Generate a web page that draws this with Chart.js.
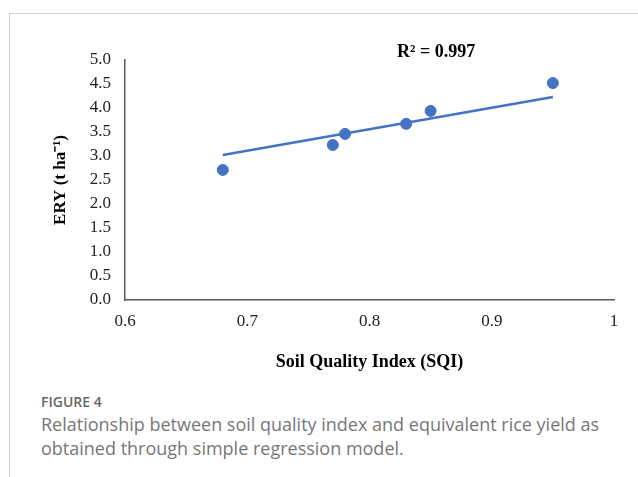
<!DOCTYPE html>
<html>
<head>
<meta charset="utf-8">
<script src="https://cdn.jsdelivr.net/npm/chart.js@4"></script>
<style>
  body { margin: 0; background: #fff; width: 638px; height: 477px; overflow: hidden; position: relative; }
  .frame { position: absolute; left: 9px; top: 13px; right: -2px; bottom: -2px; border-top: 1px solid #d0d0d0; border-left: 1px solid #d0d0d0; }
  #chartBox { position: absolute; left: 0; top: 0; width: 638px; height: 390px; }
  .caption { position: absolute; left: 41px; top: 392px; font-family: 'Open Sans', sans-serif; color: #6e6e6e; }
  .caption .label { font-size: 14px; font-weight: 600; color: #666; line-height: 20px; }
  .caption .text { font-size: 18px; line-height: 24px; color: #777; }
</style>
</head>
<body>
<div class="frame"></div>
<div id="chartBox"><canvas id="sqiChart"></canvas></div>
<div class="caption">
  <div class="label">FIGURE 4</div>
  <div class="text">Relationship between soil quality index and equivalent rice yield as<br>obtained through simple regression model.</div>
</div>
<script>
const sqi = [0.68, 0.77, 0.78, 0.83, 0.85, 0.95];
const ery = [2.71, 3.23, 3.46, 3.67, 3.94, 4.52];
const trendX = [0.68, 0.95];
const trendY = [3.02, 4.23];
const xTickLabels = ['0.6', '0.7', '0.8', '0.9', '1'];
const yTickLabels = ['0.0', '0.5', '1.0', '1.5', '2.0', '2.5', '3.0', '3.5', '4.0', '4.5', '5.0'];
const r2Text = 'R\u00b2 = 0.997';

const serif = "'Liberation Serif', 'Times New Roman', serif";
const blue = '#4472C4';
const axisColor = '#595959';

const r2Label = {
  id: 'r2Label',
  afterDatasetsDraw(chart) {
    const { ctx, scales } = chart;
    ctx.save();
    ctx.font = 'bold 18px ' + serif;
    ctx.fillStyle = '#000';
    ctx.textAlign = 'center';
    ctx.textBaseline = 'middle';
    ctx.fillText(r2Text, scales.x.getPixelForValue(0.8545), 52);
    ctx.restore();
  }
};

new Chart(document.getElementById('sqiChart'), {
  type: 'scatter',
  data: {
    datasets: [
      {
        data: sqi.map((x, i) => ({ x, y: ery[i] })),
        backgroundColor: blue,
        borderColor: blue,
        pointRadius: 5.5,
        pointHoverRadius: 5.5
      },
      {
        type: 'line',
        data: trendX.map((x, i) => ({ x, y: trendY[i] })),
        borderColor: blue,
        borderWidth: 2.5,
        pointRadius: 0,
        fill: false
      }
    ]
  },
  plugins: [r2Label],
  options: {
    responsive: true,
    maintainAspectRatio: false,
    animation: false,
    layout: { padding: { top: 60, right: 24, left: 0, bottom: 0 } },
    plugins: { legend: { display: false }, tooltip: { enabled: false } },
    scales: {
      x: {
        type: 'linear',
        min: 0.6,
        max: 1,
        afterFit: (scale) => { scale.height = 90; },
        grid: { display: false, drawTicks: false },
        border: { color: axisColor, width: 1.5 },
        ticks: {
          stepSize: 0.1,
          padding: 11,
          color: '#222',
          font: { family: serif, size: 17 },
          callback: (v, i) => xTickLabels[i]
        },
        title: {
          display: true,
          text: 'Soil Quality Index (SQI)',
          color: '#000',
          font: { family: serif, size: 18, weight: 'bold' },
          padding: { top: 0, bottom: 17 }
        }
      },
      y: {
        min: 0,
        max: 5,
        afterFit: (scale) => { scale.width = 125; },
        grid: { display: false, drawTicks: false },
        border: { color: axisColor, width: 1.5 },
        ticks: {
          stepSize: 0.5,
          padding: 14,
          color: '#222',
          font: { family: serif, size: 17 },
          callback: (v, i) => yTickLabels[i]
        },
        title: {
          display: true,
          text: 'ERY (t ha\u207b\u00b9)',
          color: '#000',
          font: { family: serif, size: 17, weight: 'bold' },
          padding: { top: 50, bottom: 0 }
        }
      }
    }
  }
});
</script>
</body>
</html>
